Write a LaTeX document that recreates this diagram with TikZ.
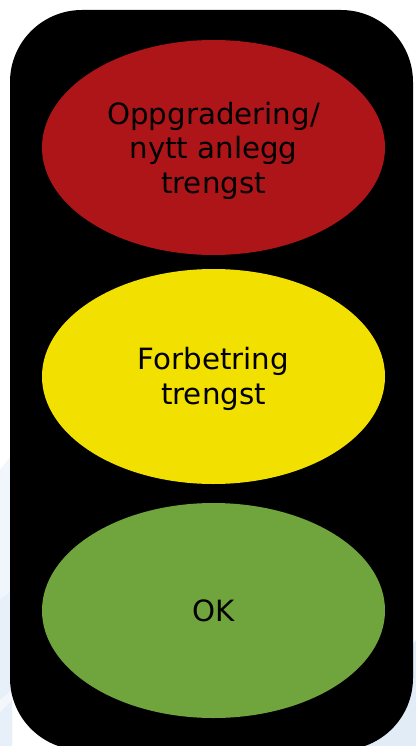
\documentclass[tikz,border=0pt]{standalone}
\usepackage{fontspec}
\setmainfont{DejaVu Sans}
\usetikzlibrary{shapes.geometric}
\definecolor{lampred}{RGB}{174,21,24}
\definecolor{lampyellow}{RGB}{242,224,0}
\definecolor{lampgreen}{RGB}{112,164,60}
\definecolor{swoosh}{RGB}{225,236,247}
\tikzset{
  lamp/.style={ellipse, minimum width=343pt, minimum height=215pt, inner sep=0pt},
  lamptext/.style={align=center, text=black, inner sep=0pt, font=\fontsize{29.3}{34.5}\selectfont},
}
\begin{document}
\begin{tikzpicture}[x=1pt,y=-1pt]
\useasboundingbox (0,0) rectangle (416,746);
\fill[white] (0,0) rectangle (416,746);
% background swooshes
\fill[swoosh!50] (0,470) -- (12,455) -- (12,746) -- (0,746) -- cycle;
\fill[swoosh!80] (0,600) -- (12,590) -- (12,746) -- (0,746) -- cycle;
\fill[white!60!swoosh] (0,700) -- (12,690) -- (12,700) -- (0,712) -- cycle;
\fill[swoosh] (330,746) -- (416,640) -- (416,746) -- cycle;
% housing
\fill[black, rounded corners=72pt] (10,10) rectangle (413,750);
% lamps
\node[lamp, fill=lampred] (red) at (213.5,147.5) {};
\node[lamp, fill=lampyellow] (yellow) at (213.5,376.5) {};
\node[lamp, fill=lampgreen] (green) at (213.5,610.5) {};
\node[lamptext] (redtext) at ([yshift=-3pt]red.center) {Oppgradering/\\nytt anlegg\\trengst};
\node[lamptext] (yellowtext) at ([yshift=-2.5pt]yellow.center) {Forbetring\\trengst};
\node[lamptext] (greentext) at (green.center) {OK};
\end{tikzpicture}
\end{document}
